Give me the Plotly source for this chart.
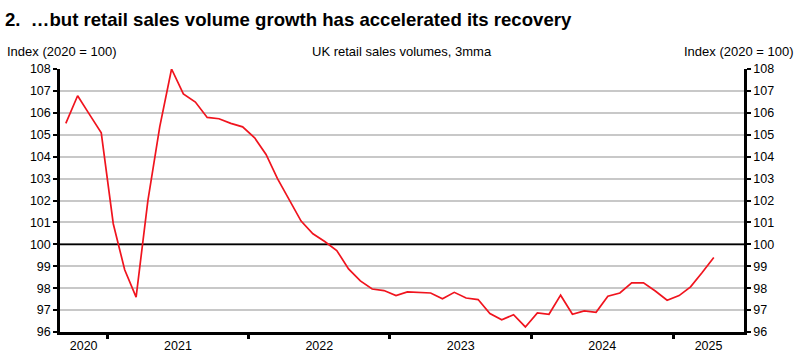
import pandas as pd
import plotly.graph_objects as go

# ---- data ----
start_month = "2020-09-01"
values = [
    105.52, 106.78, 105.93, 105.09,                                   # 2020 Sep-Dec
    100.94, 98.84, 97.59, 102.01, 105.36, 108.00, 106.86, 106.49,
    105.79, 105.73, 105.52, 105.36,                                   # 2021
    104.86, 104.10, 103.00, 102.04, 101.06, 100.48, 100.13, 99.72,
    98.88, 98.33, 97.96, 97.89,                                       # 2022
    97.66, 97.83, 97.80, 97.78, 97.52, 97.81, 97.55, 97.48,
    96.84, 96.56, 96.79, 96.23,                                       # 2023
    96.87, 96.81, 97.68, 96.81, 96.96, 96.90, 97.63, 97.78,
    98.24, 98.24, 97.87, 97.45,                                       # 2024
    97.66, 98.06, 98.70, 99.40,                                       # 2025 Jan-Apr
]
dates = pd.date_range(start_month, periods=len(values), freq="MS")

years = [2020, 2021, 2022, 2023, 2024, 2025]
x_range = ["2020-09-01", "2025-07-03"]
y_range = [96, 108]
baseline = 100

title = "2.  \u2026but retail sales volume growth has accelerated its recovery"
left_label = "Index (2020 = 100)"
right_label = "Index (2020 = 100)"
center_label = "UK retail sales volumes, 3mma"

# year label positions: middle of visible part of each year
r0, r1 = pd.Timestamp(x_range[0]), pd.Timestamp(x_range[1])
mids = []
for y in years:
    s = max(pd.Timestamp(f"{y}-01-01"), r0)
    e = min(pd.Timestamp(f"{y+1}-01-01"), r1)
    mids.append(s + (e - s) / 2)

FONT = "Liberation Sans, Arial, sans-serif"
RED = "#f0141e"

fig = go.Figure()
# baseline (index = 100)
fig.add_trace(go.Scatter(
    x=x_range, y=[baseline, baseline], mode="lines",
    line=dict(color="black", width=1.8), showlegend=False, hoverinfo="skip",
))
fig.add_trace(go.Scatter(
    x=dates, y=values, mode="lines",
    xperiod="M1", xperiodalignment="middle",
    line=dict(color=RED, width=1.7), showlegend=False, hoverinfo="x+y",
))
fig.add_trace(go.Scatter(
    x=dates, y=values, mode="lines", yaxis="y2",
    xperiod="M1", xperiodalignment="middle",
    line=dict(color=RED, width=0), opacity=0, showlegend=False, hoverinfo="skip",
))

fig.update_layout(
    width=797, height=364,
    margin=dict(l=60, r=53, t=69, b=32, autoexpand=False),
    paper_bgcolor="white", plot_bgcolor="white",
    font=dict(family=FONT, size=12, color="black"),
    title=dict(text=title, x=5 / 797, xanchor="left", xref="container",
               y=1 - 19 / 364, yanchor="middle", yref="container",
               font=dict(family=FONT, size=18.6, color="black", weight="bold")),
    xaxis=dict(
        type="date", range=x_range, automargin=False,
        tickvals=mids, ticktext=[str(y) for y in years],
        ticks="", showgrid=False, zeroline=False,
        showline=True, linecolor="black", linewidth=2.5,
        tickfont=dict(size=12.5),
        minor=dict(ticks="outside", tick0="2021-01-01", dtick="M12",
                   ticklen=4, tickwidth=2.5, tickcolor="black", showgrid=False),
    ),
    yaxis=dict(
        range=y_range, dtick=1, tick0=96, automargin=False,
        showgrid=True, gridcolor="#c8c8c8", gridwidth=1.5,
        zeroline=False, showline=True, linecolor="black", linewidth=2.5,
        ticks="outside", ticklen=4, tickwidth=1.5, tickcolor="black",
        tickfont=dict(size=12.5),
    ),
    yaxis2=dict(
        range=y_range, dtick=1, tick0=96, overlaying="y", side="right",
        automargin=False,
        showgrid=False, zeroline=False, showline=True, linecolor="black",
        linewidth=2.5, ticks="outside", ticklen=4, tickwidth=1.5,
        tickcolor="black", tickfont=dict(size=12.5),
    ),
    annotations=[
        dict(text=left_label, xref="paper", yref="paper", x=(5 - 60) / 684,
             y=(332 - 51) / 263, xanchor="left", yanchor="middle",
             showarrow=False, font=dict(size=13)),
        dict(text=center_label, xref="paper", yref="paper", x=(402 - 60) / 684,
             y=(332 - 51) / 263, xanchor="center", yanchor="middle",
             showarrow=False, font=dict(size=13)),
        dict(text=right_label, xref="paper", yref="paper", x=(796 - 60) / 684,
             y=(332 - 51) / 263, xanchor="right", yanchor="middle",
             showarrow=False, font=dict(size=13)),
    ],
)

fig.write_html("out.html",
               config={"displayModeBar": False},
               post_script="document.body.style.margin='0';"
                           "document.body.style.overflow='hidden';")
